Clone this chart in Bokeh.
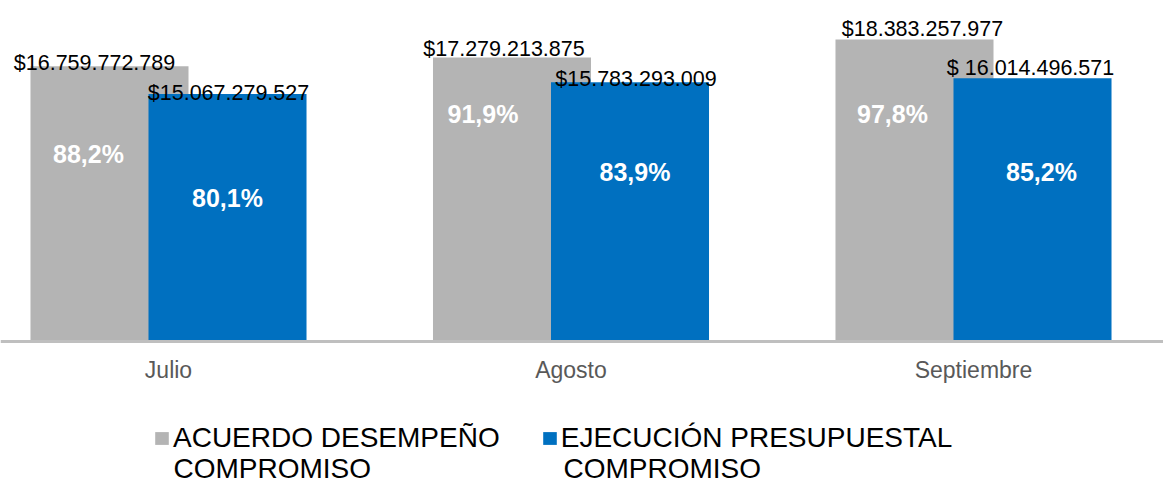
from bokeh.plotting import figure
from bokeh.models import Range1d, FixedTicker, Legend, LegendItem, ColumnDataSource, Label
from bokeh.core.properties import value
from bokeh.embed import file_html
from bokeh.resources import INLINE

# ---- data ----
months = ["Julio", "Agosto", "Septiembre"]
acuerdo = [16759772789, 17279213875, 18383257977]
ejecucion = [15067279527, 15783293009, 16014496571]
acuerdo_labels = ["$16.759.772.789", "$17.279.213.875", "$18.383.257.977"]
ejecucion_labels = ["$15.067.279.527", "$15.783.293.009", "$ 16.014.496.571"]
acuerdo_pct = ["88,2%", "91,9%", "97,8%"]
ejecucion_pct = ["80,1%", "83,9%", "85,2%"]
series_first_line = ["ACUERDO DESEMPEÑO", "EJECUCIÓN PRESUPUESTAL"]
series_second_line = ["COMPROMISO", "COMPROMISO"]

# ---- styling (pixel offsets of the hand-placed labels) ----
GRAY = "#b4b4b4"
BLUE = "#0070c0"
FONT = "Liberation Sans"
acuerdo_lab_dx = [-15, -8, 8]
acuerdo_lab_dy = [-3, -9, -11]
ejecucion_lab_dx = [1, 6, -2]
ejecucion_lab_dy = [-1, -3, -10]
acuerdo_pct_dx = [-21, -29, -22]
acuerdo_pct_dy = [88, 56, 74]
ejecucion_pct_dx = [0, 5, 9]
ejecucion_pct_dy = [104, 90, 94]
legend_line2_x = [173, 563]

pos = list(range(len(months)))
shift = 0.1466
bar_w = 0.3926

src_a = ColumnDataSource(dict(x=[i - shift for i in pos], top=acuerdo, lab=acuerdo_labels,
                              pct=acuerdo_pct, ldx=acuerdo_lab_dx, ldy=acuerdo_lab_dy,
                              pdx=acuerdo_pct_dx, pdy=acuerdo_pct_dy))
src_e = ColumnDataSource(dict(x=[i + shift for i in pos], top=ejecucion, lab=ejecucion_labels,
                              pct=ejecucion_pct, ldx=ejecucion_lab_dx, ldy=ejecucion_lab_dy,
                              pdx=ejecucion_pct_dx, pdy=ejecucion_pct_dy))

W, H = 1163, 483
px_per_unit_x = 402.5
x_start = -168 / px_per_unit_x
x_end = x_start + W / px_per_unit_x
px_per_val = 16.4e-9
baseline_px = 340.5
y_end = baseline_px / px_per_val
y_start = -(H - baseline_px) / px_per_val

p = figure(width=W, height=H, output_backend="svg", toolbar_location=None,
           x_range=Range1d(x_start, x_end), y_range=Range1d(y_start, y_end),
           min_border=0, min_border_left=0, min_border_right=0,
           min_border_top=0, min_border_bottom=0)
p.outline_line_color = None
p.xgrid.visible = False
p.ygrid.visible = False
p.yaxis.visible = False
p.background_fill_color = "white"
p.border_fill_color = "white"

r1 = p.vbar(x="x", top="top", bottom=0, width=bar_w, source=src_a,
            fill_color=GRAY, line_color=None)
r2 = p.vbar(x="x", top="top", bottom=0, width=bar_w, source=src_e,
            fill_color=BLUE, line_color=None)

for src in (src_a, src_e):
    p.text(x="x", y="top", text="lab", source=src, x_offset="ldx", y_offset="ldy",
           text_align="center", text_baseline="alphabetic",
           text_font=value(FONT), text_font_size="21.5px", text_color="#000000")
    p.text(x="x", y="top", text="pct", source=src, x_offset="pdx", y_offset="pdy",
           text_align="center", text_baseline="middle",
           text_font=value(FONT), text_font_size="25px", text_font_style="bold",
           text_color="#ffffff")

ax = p.xaxis[0]
ax.fixed_location = 0
ax.ticker = FixedTicker(ticks=pos)
ax.major_label_overrides = {i: m for i, m in zip(pos, months)}
ax.major_tick_line_color = None
ax.minor_tick_line_color = None
ax.major_tick_out = 0
ax.major_tick_in = 0
ax.axis_line_color = "#bfbfbf"
ax.axis_line_width = 3
ax.major_label_standoff = 16
ax.major_label_text_font = FONT
ax.major_label_text_font_size = "23px"
ax.major_label_text_color = "#595959"

legend = Legend(items=[LegendItem(label=series_first_line[0], renderers=[r1]),
                       LegendItem(label=series_first_line[1], renderers=[r2])],
                orientation="horizontal", location=(153, 29),
                label_text_font=FONT, label_text_font_size="28px",
                label_text_color="#000000", glyph_width=17, glyph_height=16,
                label_standoff=3, spacing=41, padding=0, margin=0,
                border_line_color=None, background_fill_alpha=0)
p.add_layout(legend)

for lx, txt in zip(legend_line2_x, series_second_line):
    p.add_layout(Label(x=lx, y=15, x_units="screen", y_units="screen", text=txt,
                       text_font=FONT, text_font_size="28px", text_color="#000000",
                       text_baseline="alphabetic", text_align="left"))

open("out.html", "w").write(file_html(p, INLINE))
